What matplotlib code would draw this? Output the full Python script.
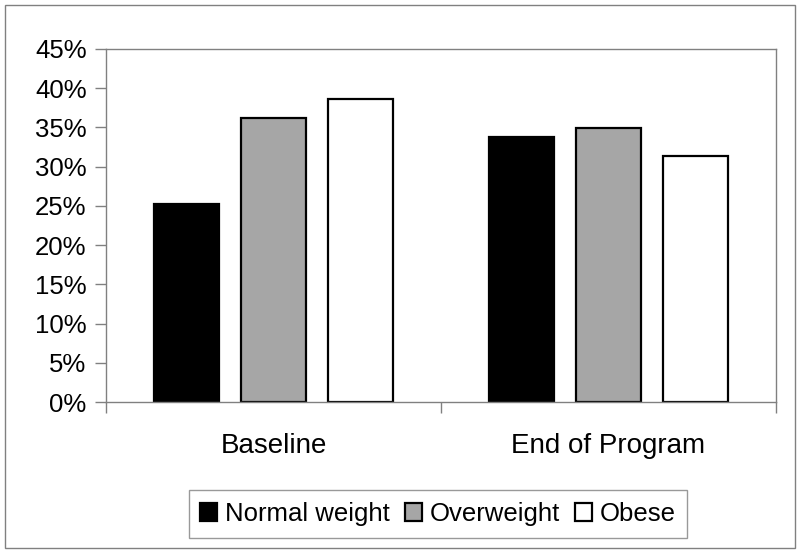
import numpy as np
import matplotlib
matplotlib.use("Agg")
from matplotlib import pyplot as plt
from matplotlib.patches import Rectangle

plt.rcParams['font.family'] = ['Liberation Sans', 'DejaVu Sans']

groups = ['Baseline', 'End of Program']
series = ['Normal weight', 'Overweight', 'Obese']
normal = [25.2, 33.8]
overweight = [36.2, 34.9]
obese = [38.6, 31.4]
colors = ['black', '#a6a6a6', 'white']
yticks = [0, 5, 10, 15, 20, 25, 30, 35, 40, 45]

fig = plt.figure(figsize=(8, 5.53), dpi=100)
ax = fig.add_axes([106/800, 1-402/553, 670/800, 353/553])

x = np.arange(len(groups))
w = 0.194
step = 0.26
for k, (vals, c, lab) in enumerate(zip([normal, overweight, obese], colors, series)):
    ax.bar(x + (k-1)*step, vals, width=w, color=c, edgecolor='black', linewidth=1.6, label=lab)

ax.set_xlim(-0.5, 1.5)
ax.set_ylim(0, 45)
ax.set_yticks(yticks)
ax.set_yticklabels([f'{t}%' for t in yticks], fontsize=18.5)
ax.set_xticks([-0.5, 0.5, 1.5])
ax.set_xticklabels([])
ax.set_xticks(x, minor=True)
ax.set_xticklabels(groups, minor=True, fontsize=20)
ax.tick_params(axis='x', which='minor', length=0, pad=22)
ax.tick_params(axis='x', which='major', length=8, color='#808080', width=1)
ax.tick_params(axis='y', length=8, color='#808080', width=1, pad=6)
for s in ax.spines.values():
    s.set_color('#808080')
    s.set_linewidth(1)

leg = ax.legend(loc='center', bbox_to_anchor=(438/800, 1-514/553), bbox_transform=fig.transFigure,
                ncol=3, fontsize=18.5, frameon=True, fancybox=False, edgecolor='#808080',
                handlelength=0.65, handleheight=0.65, handletextpad=0.3, columnspacing=0.6,
                borderpad=0.45)
leg.get_frame().set_linewidth(1)

fig.patches.append(Rectangle((5/800, 5/553), 790/800, 543/553, transform=fig.transFigure,
                             fill=False, edgecolor='#808080', linewidth=1))

fig.savefig('out.png', dpi=100)
